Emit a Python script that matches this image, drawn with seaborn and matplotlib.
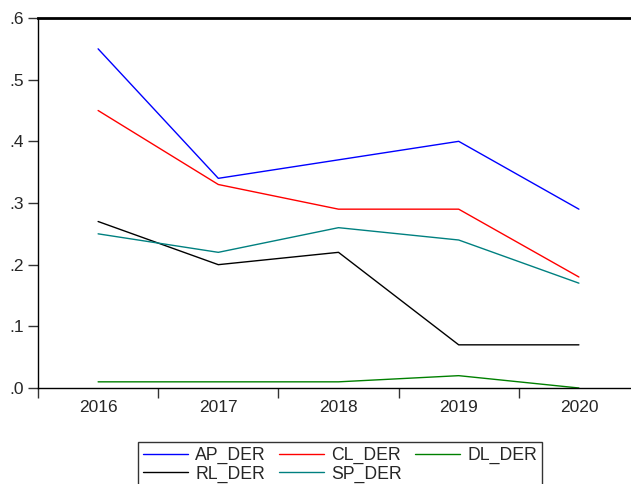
import matplotlib.pyplot as plt
import pandas as pd
import seaborn as sns
from matplotlib.ticker import FuncFormatter

years = ["2016", "2017", "2018", "2019", "2020"]
ap_der = [0.55, 0.34, 0.37, 0.40, 0.29]
cl_der = [0.45, 0.33, 0.29, 0.29, 0.18]
dl_der = [0.01, 0.01, 0.01, 0.02, 0.00]
rl_der = [0.27, 0.20, 0.22, 0.07, 0.07]
sp_der = [0.25, 0.22, 0.26, 0.24, 0.17]

series = {
    "AP_DER": ap_der,
    "CL_DER": cl_der,
    "DL_DER": dl_der,
    "RL_DER": rl_der,
    "SP_DER": sp_der,
}
colors = {
    "AP_DER": "#0000ff",
    "CL_DER": "#ff0000",
    "DL_DER": "#008000",
    "RL_DER": "#000000",
    "SP_DER": "#008080",
}

rows = []
for name, vals in series.items():
    for i, v in enumerate(vals):
        rows.append({"pos": i, "value": v, "series": name})
df = pd.DataFrame(rows)

sns.set_style("white")
plt.rcParams["font.family"] = ["Liberation Sans", "DejaVu Sans"]

fig = plt.figure(figsize=(6.31, 4.84), dpi=100)
ax = fig.add_axes([38 / 631, 96 / 484, 601 / 631, 370 / 484])

sns.lineplot(data=df, x="pos", y="value", hue="series", palette=colors,
             linewidth=1.0, ax=ax, legend=False)

ax.set_xlim(-0.5, 4.5)
ax.set_ylim(0, 0.6)
ax.set_xticks([i + 0.5 for i in range(-1, 5)])
ax.set_xticklabels([])
ax.set_xticks(range(5), minor=True)
ax.set_xticklabels(years, minor=True)
ax.tick_params(axis="x", which="major", bottom=True, direction="out", length=7,
               width=1, color="#333333")
ax.tick_params(axis="x", which="minor", bottom=True, length=0, labelsize=12.5, pad=9)
ax.set_yticks([0, 0.1, 0.2, 0.3, 0.4, 0.5, 0.6])
ax.yaxis.set_major_formatter(FuncFormatter(lambda v, p: ("%.1f" % v).lstrip("0")))
ax.tick_params(axis="y", left=True, direction="out", length=7, width=1,
               labelsize=12.5, pad=3, color="#333333")
ax.set_xlabel("")
ax.set_ylabel("")

for s in ["left", "top", "bottom", "right"]:
    ax.spines[s].set_color("black")
    ax.spines[s].set_linewidth(1.0)
ax.spines["top"].set_linewidth(2.0)

# matplotlib fills legend columns first, so reorder to read row by row
order = ["AP_DER", "RL_DER", "CL_DER", "SP_DER", "DL_DER"]
handles = [plt.Line2D([], [], color=colors[n], linewidth=1.0) for n in order]
fig.legend(handles, order, loc="upper left",
           bbox_to_anchor=(138 / 631, 1 - 442 / 484), ncol=3, frameon=True,
           fancybox=False, edgecolor="black", fontsize=12.7, handlelength=2.55,
           handletextpad=0.4, columnspacing=0.75, labelspacing=0.05,
           borderpad=0.3, borderaxespad=0)

fig.savefig("out.png", dpi=100)
